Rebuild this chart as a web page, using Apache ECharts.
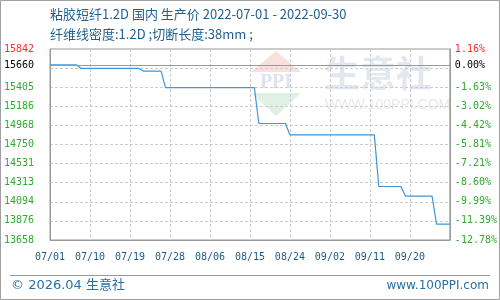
<!DOCTYPE html>
<html><head><meta charset="utf-8">
<script src="https://cdn.jsdelivr.net/npm/echarts@6/dist/echarts.min.js"></script>
<style>html,body{margin:0;padding:0;background:#fff}#c{width:500px;height:300px}</style>
</head><body><div id="c"></div>
<script>
const titleText = '粘胶短纤1.2D 国内 生产价 2022-07-01 - 2022-09-30';
const subText = '纤维线密度:1.2D ;切断长度:38mm ;';
const footerLeft = '© 2026.04 生意社';
const footerRight = 'www.100PPI.com';

const dates = [
 '07/01','07/02','07/03','07/04','07/05','07/06','07/07','07/08','07/09','07/10',
 '07/11','07/12','07/13','07/14','07/15','07/16','07/17','07/18','07/19','07/20',
 '07/21','07/22','07/23','07/24','07/25','07/26','07/27','07/28','07/29','07/30','07/31',
 '08/01','08/02','08/03','08/04','08/05','08/06','08/07','08/08','08/09','08/10',
 '08/11','08/12','08/13','08/14','08/15','08/16','08/17','08/18','08/19','08/20',
 '08/21','08/22','08/23','08/24','08/25','08/26','08/27','08/28','08/29','08/30','08/31',
 '09/01','09/02','09/03','09/04','09/05','09/06','09/07','09/08','09/09','09/10',
 '09/11','09/12','09/13','09/14','09/15','09/16','09/17','09/18','09/19','09/20',
 '09/21','09/22','09/23','09/24','09/25','09/26','09/27','09/28','09/29'
];
const prices = [
 15660,15660,15660,15660,15660,15660,15660,
 15620,15620,15620,15620,15620,15620,15620,15620,15620,15620,15620,15620,15620,15620,
 15590,15590,15590,15590,15590,
 15400,15400,15400,15400,15400,15400,15400,15400,15400,15400,15400,15400,15400,15400,15400,15400,15400,15400,15400,15400,15400,
 14990,14990,14990,14990,14990,14990,14990,
 14860,14860,14860,14860,14860,14860,14860,14860,14860,14860,14860,14860,14860,14860,14860,14860,14860,14860,14860,14860,
 14270,14270,14270,14270,14270,14270,
 14160,14160,14160,14160,14160,14160,14160,
 13840,13840,13840,13840
];
const basePrice = 15660;
const yMin = 13658, yMax = 15842;
const gridValues = [13658,13876.4,14094.8,14313.2,14531.6,14750,14968.4,15186.8,15405.2,15623.6,15842];
const labelValues = [13658,13876.4,14094.8,14313.2,14531.6,14750,14968.4,15186.8,15405.2,15660,15842];
const leftLabels = ['13658','13876','14094','14313','14531','14750','14968','15186','15405','15660','15842'];
const rightLabels = ['-12.78%','-11.39%','-9.99%','-8.60%','-7.21%','-5.81%','-4.42%','-3.02%','-1.63%','0.00%','1.16%'];
const xLabelEvery = 9;

function idxOf(v){let b=0;for(let i=0;i<labelValues.length;i++){if(Math.abs(labelValues[i]-v)<Math.abs(labelValues[b]-v))b=i;}return b;}
function labColor(v){const i=idxOf(v);if(i===labelValues.length-1)return '#ff2a2a';if(labelValues[i]===basePrice)return '#000';return '#2eaa2e';}
const mono = "'DejaVu Sans Mono', monospace";

const chart = echarts.init(document.getElementById('c'), null, {renderer:'canvas'});
chart.setOption({
  animation:false,
  backgroundColor:'#fff',
  title:[
    {text:titleText,left:50,top:8,padding:0,textStyle:{fontSize:13,fontWeight:'normal',color:'#1f5f8e',fontFamily:"'Noto Sans CJK SC'"}},
    {text:subText,left:50,top:28,padding:0,textStyle:{fontSize:13,fontWeight:'normal',color:'#1f5f8e',fontFamily:"'Noto Sans CJK SC'"}}
  ],
  grid:{left:50,right:50,top:49,bottom:60,show:true,borderColor:'#999',borderWidth:1,backgroundColor:'transparent'},
  xAxis:{
    type:'category',data:dates,boundaryGap:false,z:1,
    axisLine:{lineStyle:{color:'#999'}},
    axisTick:{show:false},
    axisLabel:{interval:(i)=>i%xLabelEvery===0&&i<dates.length-1,color:'#1d5b8a',fontFamily:mono,fontSize:10,margin:12},
    splitLine:{show:true,interval:(i)=>i%xLabelEvery===0,lineStyle:{color:'#ccc',type:[3,2]}}
  },
  yAxis:[
    {type:'value',min:yMin,max:yMax,position:'left',z:1,
     axisLine:{show:true,lineStyle:{color:'#999'}},
     axisTick:{show:false,customValues:gridValues},
     axisLabel:{customValues:labelValues,formatter:(v)=>leftLabels[idxOf(v)],color:labColor,fontFamily:mono,fontSize:10,margin:16},
     splitLine:{show:true,lineStyle:{color:'#ccc',type:[3,2]}}},
    {type:'value',min:yMin,max:yMax,position:'right',z:1,
     axisLine:{show:true,lineStyle:{color:'#999'}},
     axisTick:{show:false,customValues:labelValues},
     axisLabel:{customValues:labelValues,formatter:(v)=>rightLabels[idxOf(v)],color:labColor,fontFamily:mono,fontSize:10,margin:5},
     splitLine:{show:false}}
  ],
  series:[{
    type:'line',data:prices,showSymbol:false,symbol:'none',z:3,
    lineStyle:{color:'#3a98dc',width:1.2},
    markLine:{silent:true,symbol:'none',label:{show:false},lineStyle:{color:'#999',type:'solid',width:1},data:[{yAxis:basePrice}]}
  }],
  graphic:[
    {type:'polygon',z:-1,shape:{points:[[276,51],[251,72],[301,72]]},style:{fill:'#f9e0dc'}},
    {type:'text',z:-1,x:276,y:83,style:{text:'PPI',fill:'#dde3ef',font:"bold 20px 'Liberation Serif'",textAlign:'center',textVerticalAlign:'middle'}},
    {type:'polygon',z:-1,shape:{points:[[251,93],[301,93],[276,116]]},style:{fill:'#e0f1e3'}},
    {type:'text',z:-1,x:324,y:73,style:{text:'生意社',fill:'#e3e7ef',font:"bold 36px 'Noto Sans CJK SC'",textVerticalAlign:'middle',letterSpacing:8}},
    {type:'text',z:-1,x:325,y:105,style:{text:'WWW.100PPI.COM',fill:'#e8e8e8',font:"14px 'Liberation Sans'",textVerticalAlign:'middle'}},
    {type:'rect',shape:{x:0.5,y:0.5,width:499,height:299},style:{fill:'none',stroke:'#a0a0a0',lineWidth:1}},
    {type:'line',shape:{x1:10,y1:275.5,x2:490,y2:275.5},style:{stroke:'#999',lineWidth:1}},
    {type:'text',x:11,y:286,style:{text:footerLeft,fill:'#2670a5',font:"13px 'DejaVu Sans','Noto Sans CJK SC'",textVerticalAlign:'middle'}},
    {type:'text',x:489,y:286,style:{text:footerRight,fill:'#2670a5',font:"12px 'DejaVu Sans'",textAlign:'right',textVerticalAlign:'middle'}}
  ]
});
</script></body></html>
